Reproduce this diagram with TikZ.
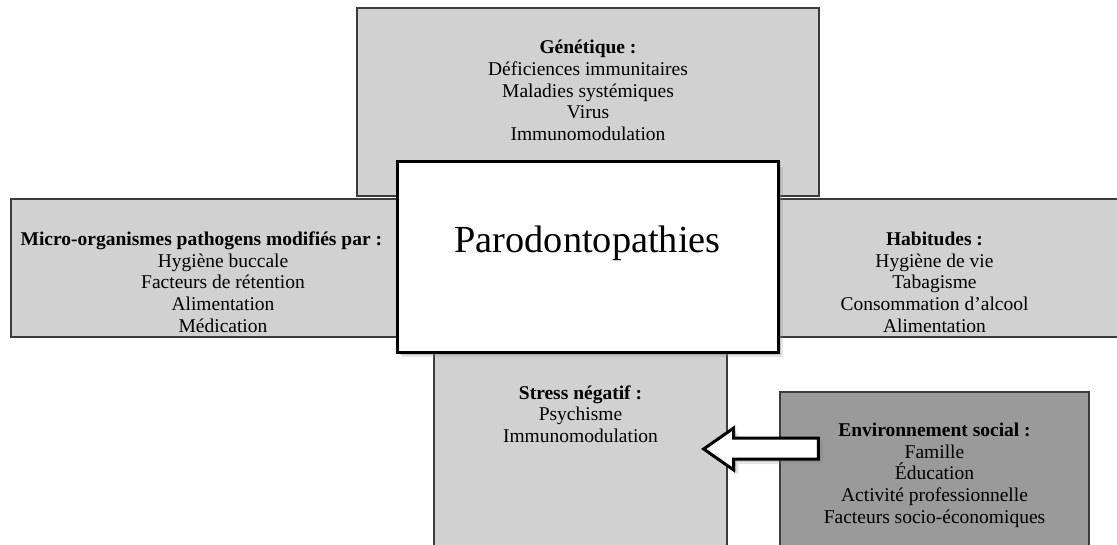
\documentclass[tikz,border=0pt]{standalone}
\usepackage{fontspec}
\setmainfont{Liberation Serif}
\usetikzlibrary{positioning,fit,shadows,calc}
\definecolor{panelgray}{RGB}{209,209,209}
\definecolor{socialgray}{RGB}{154,154,154}
\definecolor{edgegray}{RGB}{60,60,60}

\begin{document}
\begin{tikzpicture}[x=0.6pt, y=-0.6pt,
  panel/.style={draw=edgegray, line width=0.8pt, fill=panelgray, inner sep=0pt},
  social/.style={panel, fill=socialgray},
  softshadow/.style={drop shadow={shadow xshift=3pt, shadow yshift=-3pt, opacity=.2},
                     drop shadow={shadow xshift=1.6pt, shadow yshift=-1.6pt, opacity=.35}},
  core/.style={draw=black, line width=1.8pt, fill=white, inner sep=0pt, softshadow},
  lbl/.style={align=center, font=\fontsize{11.7}{13}\selectfont, inner sep=0pt},
  title/.style={font=\fontsize{23}{26}\selectfont, inner sep=0pt},
  blockarr/.style={draw=black, line width=1.8pt, fill=white, line join=miter, softshadow}]
\clip (0,0) rectangle (1117,545);
% factor boxes
\node[panel, fit={(357,8) (819,196)}] (gen) {};
\node[panel, fit={(11,199) (500,337)}] (micro) {};
\node[panel, fit={(700,199) (1130,337)}] (habit) {};
\node[panel, fit={(434,300) (727,560)}] (stress) {};
\node[social, fit={(780,392) (1089,560)}] (social) {};
\node[lbl] (gentxt) at (588,90.5) {\textbf{Génétique :}\\Déficiences immunitaires\\Maladies systémiques\\Virus\\Immunomodulation};
\node[lbl] (microtxt) at (223,282) {\textbf{Micro-organismes pathogens modifiés par :}\hspace*{26pt}\\Hygiène buccale\\Facteurs de rétention\\Alimentation\\Médication};
\node[lbl] (habittxt) at (934.5,282) {\textbf{Habitudes :}\\Hygiène de vie\\Tabagisme\\Consommation d’alcool\\Alimentation};
\node[lbl] (stresstxt) at (580.5,414) {\textbf{Stress négatif :}\\Psychisme\\Immunomodulation};
\node[lbl] (socialtxt) at (934.5,475) {\textbf{Environnement social :}\\Famille\\Éducation\\Activité professionnelle\\Facteurs socio-économiques};
% central box
\node[core, fit={(397,162) (778,352)}] (paro) {};
\node[title, anchor=base] (parotxt) at (587.5,252) {Parodontopathies};
% block arrow social -> stress
\coordinate (tip) at ($(stress.east |- 0,449)+(-24,0)$);
\coordinate (tail) at ($(social.west |- 0,449)+(39,0)$);
\draw[blockarr] (tip) -- ++(30,-21) -- ++(0,10) -- ($(tail)+(0,-11)$)
  -- ($(tail)+(0,10)$) -- ($(tip)+(30,10)$) -- ++(0,11) -- cycle;
\end{tikzpicture}
\end{document}
